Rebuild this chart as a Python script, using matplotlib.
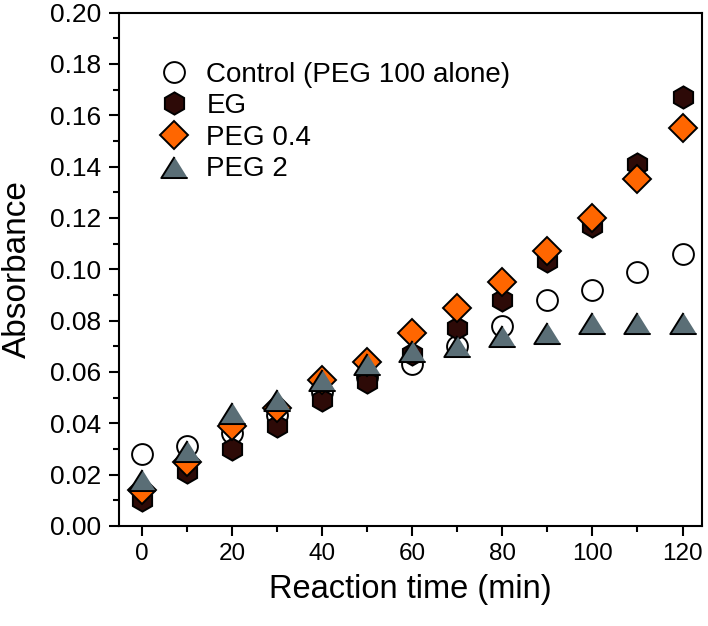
import numpy as np
import matplotlib
matplotlib.use("Agg")
import matplotlib.pyplot as plt
from matplotlib.ticker import MultipleLocator, FormatStrFormatter

plt.rcParams['font.family'] = ['Liberation Sans', 'DejaVu Sans']

# reaction time (min)
time = [0, 10, 20, 30, 40, 50, 60, 70, 80, 90, 100, 110, 120]

# absorbance
control = [0.028, 0.031, 0.036, 0.043, 0.052, 0.058, 0.063, 0.070, 0.078, 0.088, 0.092, 0.099, 0.106]
eg = [0.010, 0.021, 0.030, 0.039, 0.049, 0.056, 0.067, 0.077, 0.088, 0.103, 0.117, 0.141, 0.167]
peg04 = [0.014, 0.025, 0.039, 0.046, 0.057, 0.064, 0.075, 0.085, 0.095, 0.107, 0.120, 0.135, 0.155]
peg2 = [0.018, 0.029, 0.044, 0.049, 0.057, 0.063, 0.068, 0.070, 0.074, 0.075, 0.079, 0.079, 0.079]

labels = ["Control (PEG 100 alone)", "EG", "PEG 0.4", "PEG 2"]

fig = plt.figure(figsize=(7.08, 6.26), dpi=100)
ax = fig.add_axes([0.168, 0.160, 0.824, 0.820])

tri = [(0, 0.8), (-1, -0.8), (1, -0.8)]
ew = 1.4

ax.plot(time, control, ls='none', marker='o', ms=15, mfc='white', mec='black', mew=ew,
        label=labels[0], zorder=3)
ax.plot(time, eg, ls='none', marker='h', ms=16, mfc='#2d0a07', mec='black', mew=ew,
        label=labels[1], zorder=4)
ax.plot(time, peg04, ls='none', marker='D', ms=14, mfc='#ff6600', mec='black', mew=ew,
        label=labels[2], zorder=5)
ax.plot(time, peg2, ls='none', marker=tri, ms=19, mfc='#5a6e76', mec='black', mew=ew,
        label=labels[3], zorder=6)

ax.set_xlim(-5.1, 124.4)
ax.set_ylim(0, 0.20)
ax.xaxis.set_major_locator(MultipleLocator(20))
ax.xaxis.set_minor_locator(MultipleLocator(10))
ax.yaxis.set_major_locator(MultipleLocator(0.02))
ax.yaxis.set_minor_locator(MultipleLocator(0.01))
ax.yaxis.set_major_formatter(FormatStrFormatter('%.2f'))

ax.tick_params(which='major', direction='out', length=7.5, width=1.5)
ax.tick_params(which='minor', direction='out', length=4, width=1.5)
ax.tick_params(axis='y', which='major', labelsize=19, pad=5.5)
ax.tick_params(axis='x', which='major', labelsize=17.5, pad=5)
for s in ax.spines.values():
    s.set_linewidth(1.5)

ax.set_xlabel("Reaction time (min)", fontsize=23.5, labelpad=6)
ax.set_ylabel("Absorbance", fontsize=24, labelpad=12)

ax.legend(loc='upper left', bbox_to_anchor=(0.014, 0.953), frameon=False, fontsize=20,
          handletextpad=0.35, labelspacing=0.2, borderaxespad=0.5, handlelength=1.6)

fig.savefig("out.png", dpi=100)
